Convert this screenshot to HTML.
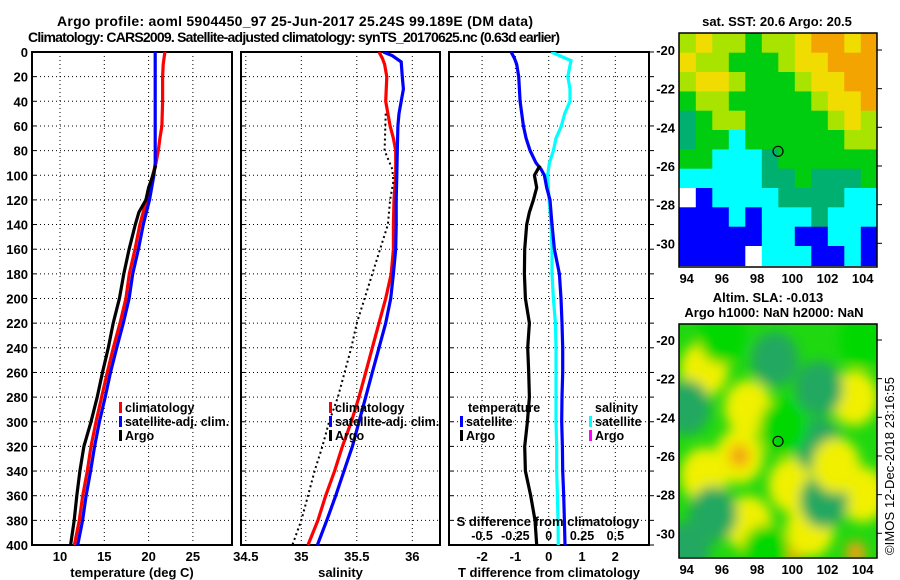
<!DOCTYPE html>
<html><head><meta charset="utf-8"><style>
html,body{margin:0;padding:0;background:#fff;}
svg{display:block;font-family:"Liberation Sans",sans-serif;font-weight:bold;}
</style></head><body>
<svg id="chart" width="900" height="580" viewBox="0 0 900 580" xmlns="http://www.w3.org/2000/svg">
<defs>
<clipPath id="cp1"><rect x="32" y="52" width="200" height="493"/></clipPath>
<clipPath id="cp2"><rect x="241" y="52" width="199" height="493"/></clipPath>
<clipPath id="cp3"><rect x="449" y="52" width="200" height="493"/></clipPath>
<clipPath id="cpm1"><rect x="679" y="33" width="198" height="234"/></clipPath>
<clipPath id="cpm2"><rect x="679" y="324" width="198" height="233"/></clipPath>
<filter id="blur" x="-50%" y="-50%" width="200%" height="200%"><feGaussianBlur stdDeviation="6"/></filter>
</defs>
<text x="295" y="26" text-anchor="middle" font-size="14" textLength="476">Argo profile: aoml 5904450_97 25-Jun-2017 25.24S 99.189E (DM data)</text>
<text x="294" y="42" text-anchor="middle" font-size="14" textLength="532">Climatology: CARS2009. Satellite-adjusted climatology: synTS_20170625.nc (0.63d earlier)</text>
<g id="g1"></g>
<g id="g2"></g>
<g id="g3"></g>
<g id="m1"></g>
<g id="m2"></g>
<text x="0" y="0" transform="translate(894,466) rotate(-90)" text-anchor="middle" font-size="13" font-weight="normal" textLength="178">©IMOS 12-Dec-2018 23:16:55</text>
</svg>
<script>
// ---- data ----
const depthTicks = [0,20,40,60,80,100,120,140,160,180,200,220,240,260,280,300,320,340,360,380,400];
const tempTicks = [10,15,20,25];
const salTicks = [34.5,35,35.5,36];
const tdiffTicks = [-2,-1,0,1,2];
const sdiffTicks = [-0.5,-0.25,0,0.25,0.5];
const sdiffLabels = ["-0.5","-0.25","0","0.25","0.5"];

const climDepths = [0,10,20,40,60,70,80,90,100,120,140,160,180,200,220,240,260,280,300,320,340,360,380,400];
const climTemp = [21.84,21.65,21.58,21.58,21.5,21.28,21.09,20.83,20.45,19.77,19.02,18.46,17.82,17.44,16.77,16.02,15.34,14.7,14.06,13.5,13.08,12.56,12.18,11.62];
const satTemp = [20.75,20.75,20.75,20.75,20.75,20.75,20.75,20.75,20.6,20.1,19.4,18.85,18.2,17.8,17.15,16.4,15.7,15.1,14.45,13.9,13.45,12.95,12.55,12.0];
const argoDepths = [92,100,110,120,130,140,160,180,200,220,240,260,280,300,320,340,360,380,400];
const argoTemp = [20.8,20.5,20.0,19.7,18.9,18.5,17.8,17.2,16.7,16.0,15.45,14.8,14.2,13.5,12.7,12.25,11.9,11.6,11.2];

const climSalDepths = [0,5,10,20,40,60,70,80,100,120,140,160,180,200,220,240,260,280,300,320,340,360,380,400];
const climSal = [35.70,35.73,35.75,35.77,35.76,35.80,35.83,35.85,35.85,35.835,35.83,35.83,35.81,35.76,35.70,35.64,35.58,35.52,35.45,35.37,35.30,35.22,35.15,35.06];
const satSalDepths = [0,3,8,20,30,40,50,60,80,100,120,140,160,180,200,220,240,260,280,300,320,340,360,380,400];
const satSal = [35.74,35.82,35.90,35.91,35.92,35.90,35.88,35.87,35.865,35.86,35.855,35.855,35.85,35.83,35.805,35.76,35.70,35.64,35.58,35.52,35.46,35.385,35.31,35.23,35.145];
const argoSalDepths = [50,80,95,105,120,140,160,180,200,220,240,260,280,300,320,340,360,380,400];
const argoSal = [35.76,35.75,35.82,35.83,35.80,35.78,35.71,35.64,35.57,35.5,35.45,35.39,35.33,35.25,35.19,35.12,35.06,35.0,34.92];

const satTdiffDepths = [0,5,10,20,40,60,70,80,90,95,100,110,120,140,160,180,200,220,240,260,280,300,320,340,360,380,400];
const satTdiff = [-1.13,-1.03,-0.96,-0.9,-0.86,-0.76,-0.68,-0.56,-0.38,-0.23,-0.13,-0.06,0.04,0.1,0.17,0.32,0.37,0.4,0.42,0.42,0.4,0.39,0.41,0.42,0.45,0.47,0.49];
const argoTdiff = [-0.26,-0.43,-0.36,-0.46,-0.58,-0.66,-0.72,-0.73,-0.7,-0.58,-0.63,-0.6,-0.58,-0.64,-0.72,-0.7,-0.54,-0.41,-0.36];
const satSdiffDepths = [0,7,20,30,40,50,60,70,80,90,100,120,140,160,180,200,220,240,260,280,300,320,340,360,380,400];
const satSdiff = [0.018,0.167,0.143,0.16,0.16,0.12,0.095,0.055,0.035,0.005,-0.008,0.003,0.018,0.025,0.025,0.035,0.05,0.055,0.055,0.055,0.055,0.06,0.06,0.065,0.07,0.072];

// SST map class grid (rows from -19.14 southward, 1 deg each; 12 columns)
const sstRows = [
 "LYLLGLLYOOYO",
 "YLLGGGLYYOOO",
 "LYYLGGGLYYOO",
 "GLLGGGGGLYYO",
 "TGLLGGGGGLYL",
 "TGGCGGGGGGLL",
 "GGCCCTGGGGGG",
 "CCCCCTTGTTTG",
 "WBCCCCTTTTCC",
 "BBBCBCCCTCCC",
 "BBBBBCCBBCCB",
 "BBBBWCCCBBCB"];
const sstLatTicks = [-20,-22,-24,-26,-28,-30];
const lonTicks = [94,96,98,100,102,104];
const argoLon = 99.189, argoLat = -25.24;
// SLA map blobs: lon, lat, class
const slaBlobLon = [95,97.5,97,97,95,100,103.5,104,97.5,100,103.6,101,99,101.5,94,95.5,101.8,101.5,96,104,94,99.5,102.5,98.5];
const slaBlobLat = [-21.5,-23.5,-26,-26,-27,-27.5,-23,-28,-29.5,-31,-31,-29.8,-21,-22.5,-23.5,-29,-28.3,-25.5,-19.8,-20,-30.8,-24.5,-26.5,-31];
const slaBlobCls = ["Y","Y","Y","O","Y","Y","Y","Y","Y","O","O","Y","T","T","T","T","T","T","G","G","T","G","Y","G"];

// ---- helpers ----
const NS="http://www.w3.org/2000/svg";
function mk(tag, parent, attrs){const e=document.createElementNS(NS,tag);for(const k in attrs)e.setAttribute(k,attrs[k]);parent.appendChild(e);return e;}
const yD = d => 52 + d*1.2325;
const xT = t => 60 + (t-10)*8.86;
const xS = s => 301.3 + (s-35)*111;
const xTd = t => 548.7 + t*33.3;
const xSd = s => 548.7 + s*133.3;

function panel(g, x0, x1, ticksX, fx, labels, title, leftLabels, rightTicks){
  depthTicks.forEach(d=>{
    const l=mk('line',g,{x1:x0,x2:x1,y1:yD(d),y2:yD(d),stroke:'#000','stroke-width':1,'stroke-dasharray':'1,3'});
    
    
    const t=mk('line',g,{x1:x0,x2:x0+4,y1:yD(d),y2:yD(d),stroke:'#000','stroke-width':1});
    
    
    if(rightTicks){
      const r=mk('line',g,{x1:x1,x2:x1+5,y1:yD(d),y2:yD(d),stroke:'#000','stroke-width':1});
      
      
    }
    if(leftLabels){
      const tx=mk('text',g,{x:x0-4,y:yD(d)+5,'text-anchor':'end','font-size':13});
      tx.textContent=d;
      
      
    }
  });
  ticksX.forEach((v,i)=>{
    const l=mk('line',g,{x1:fx(v),x2:fx(v),y1:52,y2:545,stroke:'#000','stroke-width':1,'stroke-dasharray':'1,3'});
    
    
    const t=mk('text',g,{x:fx(v),y:561,'text-anchor':'middle','font-size':13});
    t.textContent=labels?labels[i]:v;
    
    
  });
  const r=mk('rect',g,{x:x0,y:52,width:x1-x0,height:493,fill:'none',stroke:'#000','stroke-width':2});
  
  
  const tt=mk('text',g,{x:(x0+x1)/2,y:577,'text-anchor':'middle','font-size':13});
  tt.textContent=title;
  
  
}
function line(g, xs, ds, fx, color, name, clip, dash){
  const pts=xs.map((v,i)=>fx(v).toFixed(1)+','+yD(ds[i]).toFixed(1)).join(' ');
  const p=mk('polyline',g,{points:pts,fill:'none',stroke:color,'stroke-width':dash?2:3.2,'clip-path':'url(#'+clip+')'});
  if(dash)p.setAttribute('stroke-dasharray','2,3');
  
  
}
function legend(g, x, y, color, label, name){
  const m=mk('rect',g,{x:x,y:y-10,width:3,height:11,fill:color});
  
  
  const t=mk('text',g,{x:x+6,y:y,'font-size':12.5});
  t.textContent=label;
  
  
}

const g1=document.getElementById('g1'),g2=document.getElementById('g2'),g3=document.getElementById('g3');
panel(g1,32,232,tempTicks,xT,null,'temperature (deg C)',true,false);
line(g1,climTemp,climDepths,xT,'#ff0000','temp-climatology-line','cp1');
line(g1,satTemp,climDepths,xT,'#0000ff','temp-satellite-line','cp1');
line(g1,argoTemp,argoDepths,xT,'#000','temp-argo-line','cp1');
legend(g1,119,412,'#ff0000','climatology','legend-climatology');
legend(g1,119,426,'#0000ff','satellite-adj. clim.','legend-satellite');
legend(g1,119,440,'#000','Argo','legend-argo');

panel(g2,241,440,salTicks,xS,null,'salinity',false,false);
line(g2,climSal,climSalDepths,xS,'#ff0000','sal-climatology-line','cp2');
line(g2,satSal,satSalDepths,xS,'#0000ff','sal-satellite-line','cp2');
line(g2,argoSal,argoSalDepths,xS,'#000','sal-argo-line','cp2',true);
legend(g2,329,412,'#ff0000','climatology','legend-climatology');
legend(g2,329,426,'#0000ff','satellite-adj. clim.','legend-satellite');
legend(g2,329,440,'#000','Argo','legend-argo');

panel(g3,449,649,tdiffTicks,xTd,null,'T difference from climatology',false,true);
line(g3,satSdiff,satSdiffDepths,xSd,'#00ffff','sdiff-satellite-line','cp3');
line(g3,satTdiff,satTdiffDepths,xTd,'#0000ff','tdiff-satellite-line','cp3');
line(g3,argoTdiff,argoDepths,xTd,'#000','tdiff-argo-line','cp3');
{const t=mk('text',g3,{x:548,y:526,'text-anchor':'middle','font-size':13});t.textContent='S difference from climatology';

}
sdiffTicks.forEach((v,i)=>{const t=mk('text',g3,{x:xSd(v),y:540,'text-anchor':'middle','font-size':12.5});t.textContent=sdiffLabels[i];

});
{const t=mk('text',g3,{x:468,y:412,'font-size':12.5});t.textContent='temperature';


const s=mk('text',g3,{x:595,y:412,'font-size':12.5});s.textContent='salinity';

}
legend(g3,460,426,'#0000ff','satellite','legend-temp-satellite');
legend(g3,460,440,'#000','Argo','legend-temp-argo');
legend(g3,589,426,'#00ffff','satellite','legend-sal-satellite');
legend(g3,589,440,'#ff00ff','Argo','legend-sal-argo');

// ---- maps ----
const lonX = lon => 686.7 + (lon-94)*17.6;
const latY1 = lat => 50 + (-20-lat)*19.33;
const latY2 = lat => 340 + (-20-lat)*19.33;
const sstColors = {O:'#f4a400',Y:'#f0dc00',L:'#a8e400',G:'#00cc10',T:'#00b070',C:'#00ffff',B:'#0000ff',W:'#ffffff'};
const m1=document.getElementById('m1'),m2=document.getElementById('m2');
function mapFrame(g, top, latY){
  const r=mk('rect',g,{x:679,y:top,width:198,height:234,fill:'none',stroke:'#000','stroke-width':1.5});
  
  
  sstLatTicks.forEach(l=>{
    const t=mk('text',g,{x:675,y:latY(l)+5,'text-anchor':'end','font-size':13});t.textContent=l;
    
    
    const k=mk('line',g,{x1:877,x2:882,y1:latY(l),y2:latY(l),stroke:'#000'});
    
    
  });
  lonTicks.forEach(l=>{
    const t=mk('text',g,{x:lonX(l),y:top+250,'text-anchor':'middle','font-size':13});t.textContent=l;
    
    
  });
  const c=mk('circle',g,{cx:lonX(argoLon),cy:latY(argoLat),r:5,fill:'none',stroke:'#000','stroke-width':1.2});
  
  
}
const cw=(104.83-93.58)/12;
sstRows.forEach((row,ri)=>{
  for(let ci=0;ci<row.length;ci++){
    const lon0=93.58+ci*cw, lat0=-19.14-ri;
    const x=lonX(lon0), y=latY1(lat0);
    const r=mk('rect',m1,{x:x.toFixed(1),y:y.toFixed(1),width:(cw*17.6+0.6).toFixed(1),height:20,fill:sstColors[row[ci]],'clip-path':'url(#cpm1)'});
    
    
  }
});
mapFrame(m1,33,latY1);
{const t=mk('text',m1,{x:777,y:26,'text-anchor':'middle','font-size':13});t.textContent='sat. SST: 20.6 Argo: 20.5';

}
const slaColors={Y:'#f0f000',O:'#f4a010',T:'#20a860',G:'#00d800'};
{const bg=mk('rect',m2,{x:679,y:324,width:198,height:233,fill:'#20d810'});

}
const blobG=mk('g',m2,{'clip-path':'url(#cpm2)'});
const blobInner=mk('g',blobG,{filter:'url(#blur)'});
slaBlobLon.forEach((lon,i)=>{
  const cls=slaBlobCls[i];
  const rr = cls==='O'?10:24;
  const e=mk('ellipse',blobInner,{cx:lonX(lon),cy:latY2(slaBlobLat[i]),rx:rr,ry:rr*1.15,fill:slaColors[cls]});
  
  
});
mapFrame(m2,324,latY2);
{const t=mk('text',m2,{x:768,y:302,'text-anchor':'middle','font-size':13});t.textContent='Altim. SLA: -0.013';


const t2=mk('text',m2,{x:774,y:317,'text-anchor':'middle','font-size':13});t2.textContent='Argo h1000: NaN h2000: NaN';

}
</script>
</body></html>
